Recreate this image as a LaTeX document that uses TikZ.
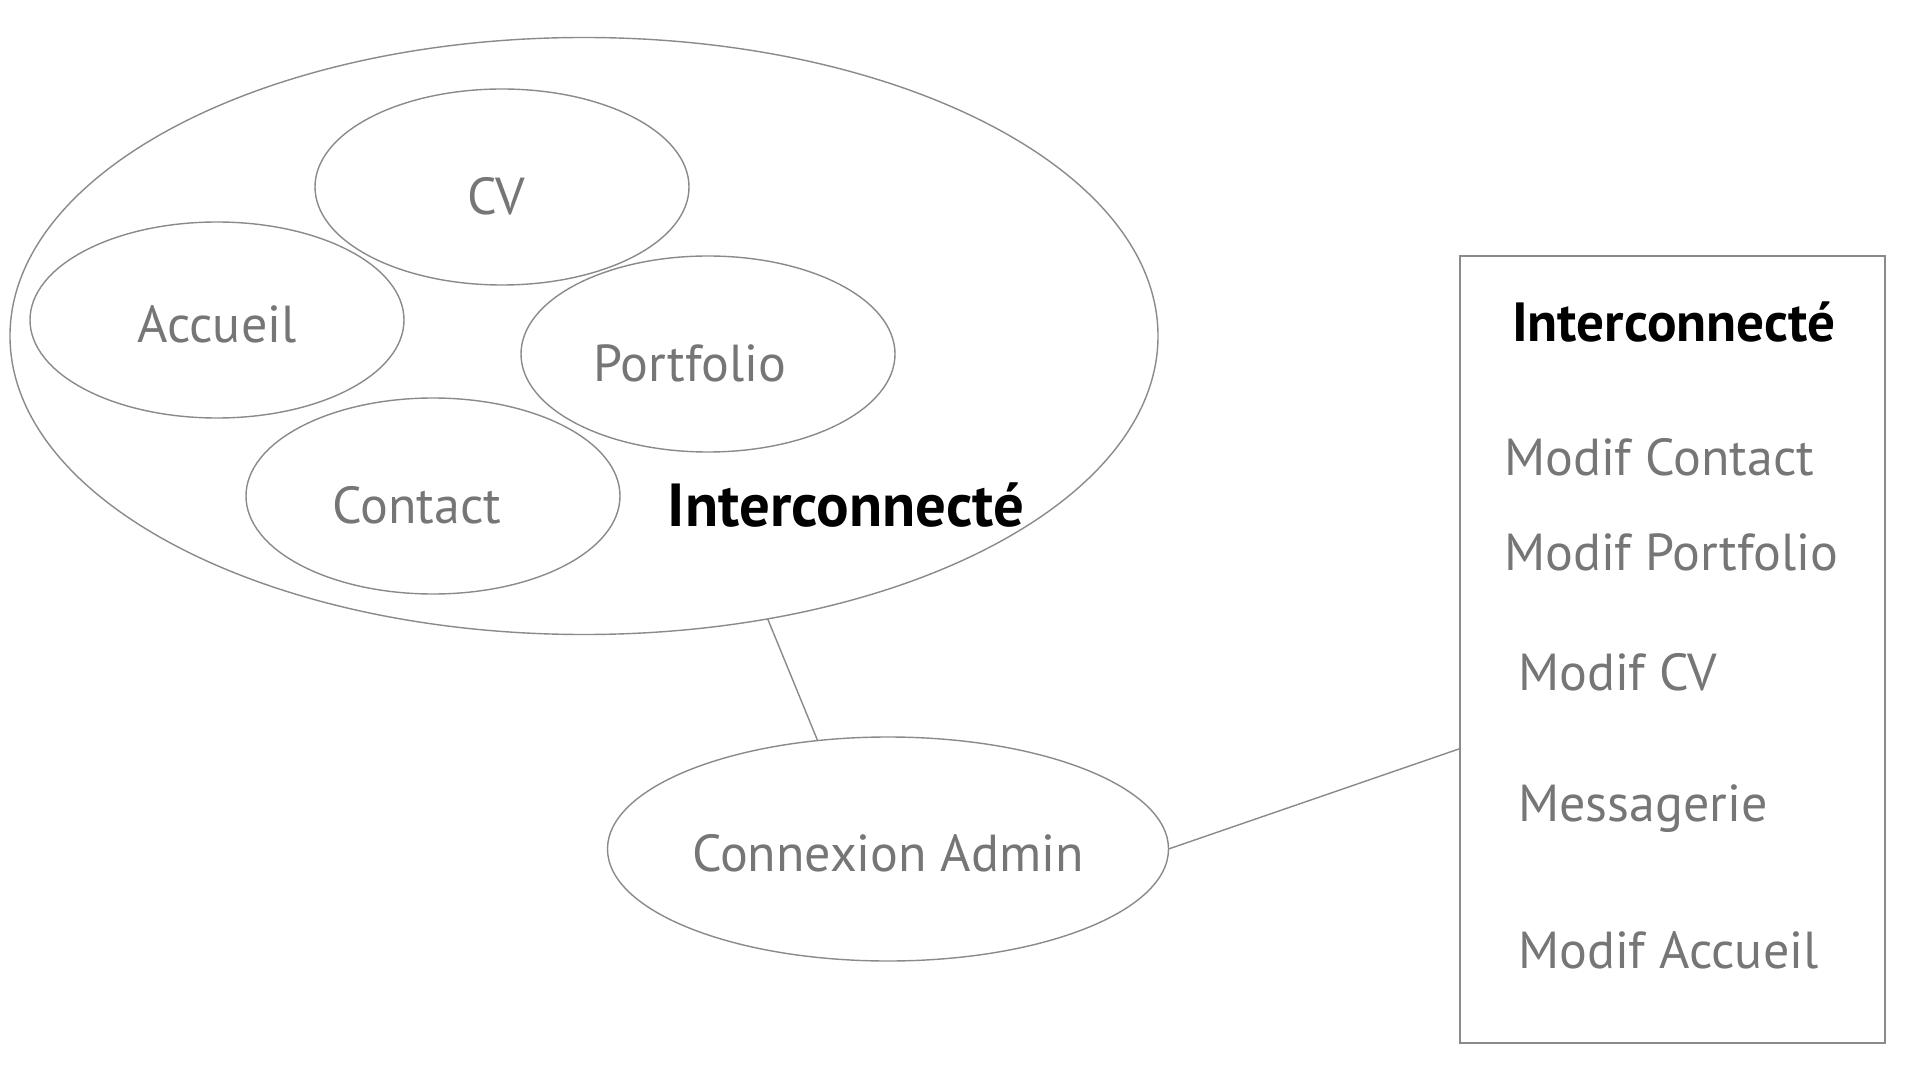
\documentclass[tikz,border=0pt]{standalone}
\usepackage{fontspec}
\setmainfont{PT Sans}
\usetikzlibrary{shapes.geometric}
\definecolor{txtgray}{HTML}{767676}
\definecolor{linegray}{HTML}{8A8A8A}
\begin{document}
\begin{tikzpicture}[every node/.style={outer sep=0pt, inner sep=0pt, text=txtgray, font=\fontsize{14.8}{17}\selectfont}, bulle/.style={draw=linegray, ellipse, line width=0.4pt, minimum width=3.74cm, minimum height=1.96cm}, titre/.style={text=black, font=\fontsize{15.7}{19}\selectfont\bfseries}, lien/.style={draw=linegray, line width=0.4pt}]
	\useasboundingbox (0,0) rectangle (19.2,-10.8);
	
	% Partie publique
	\node[bulle, minimum width=11.48cm, minimum height=5.97cm] (public) at (5.84,-3.36) {};
	\node[bulle] (cv) at (5.02,-1.87) {};
	\node[bulle] (accueil) at (2.17,-3.20) {};
	\node[bulle] (portfolio) at (7.08,-3.54) {};
	\node[bulle] (contact) at (4.33,-4.96) {};
	\node (txtCv) at ([shift={(-0.06,-0.09)}]cv) {CV};
	\node (txtAccueil) at ([shift={(0,-0.04)}]accueil) {Accueil};
	\node (txtPortfolio) at ([shift={(-0.18,-0.09)}]portfolio) {Portfolio};
	\node (txtContact) at ([shift={(-0.16,-0.09)}]contact) {Contact};
	\node[titre, font=\fontsize{17.3}{20}\selectfont\bfseries] (titrePublic) at (8.46,-5.05) {Interconnecté};
	
	% Partie admin
	\node[bulle, minimum width=5.61cm, minimum height=2.24cm] (admin) at (8.88,-8.49) {};
	\node (txtAdmin) at ([shift={(0,-0.04)}]admin) {Connexion Admin};
	\node[draw=linegray, line width=0.4pt, minimum width=4.25cm, minimum height=7.87cm] (menu) at (16.725,-6.495) {};
	\node[titre, anchor=west] (titreAdmin) at (15.12,-3.22) {Interconnecté};
	\node[anchor=west] (modifContact) at (15.04,-4.57) {Modif Contact};
	\node[anchor=west] (modifPortfolio) at (15.04,-5.52) {Modif Portfolio};
	\node[anchor=west] (modifCv) at (15.18,-6.72) {Modif CV};
	\node[anchor=west] (messagerie) at (15.18,-8.09) {Messagerie};
	\node[anchor=west] (modifAccueil) at (15.18,-9.50) {Modif Accueil};
	
	\draw[lien] (public.-57) -- (admin.123);
	\draw[lien] (admin.east) -- (menu.205);
	
\end{tikzpicture}
\end{document}
